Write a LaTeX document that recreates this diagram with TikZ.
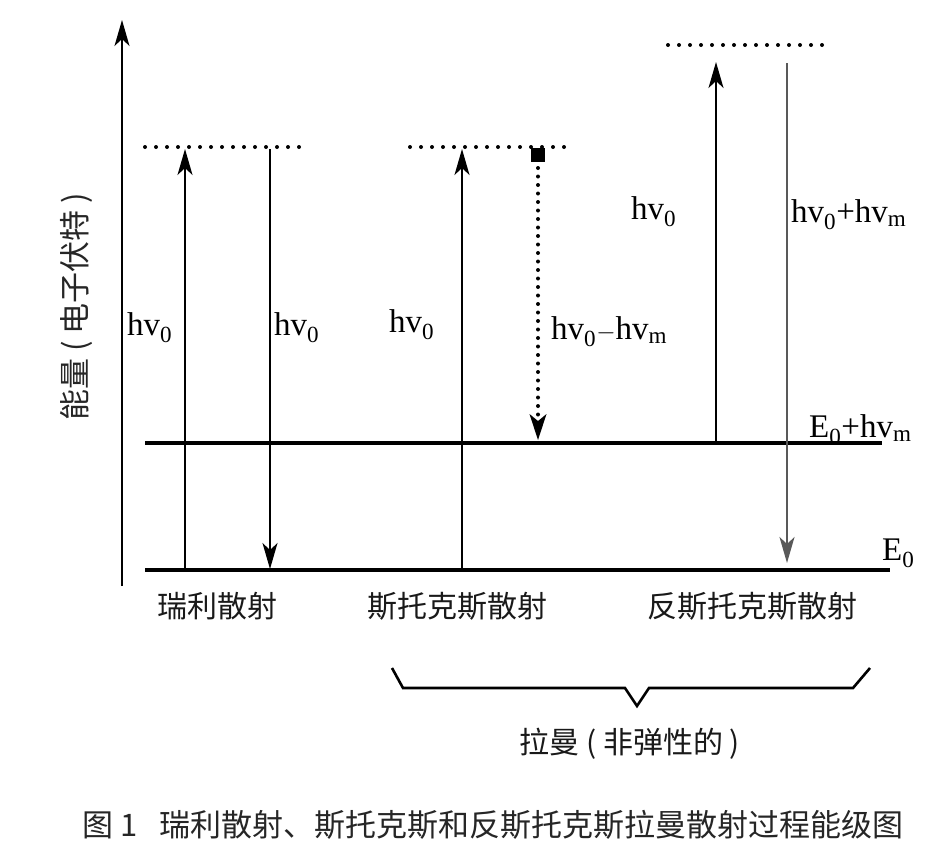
\documentclass[tikz,border=0pt]{standalone}
\usepackage{fontspec}
\setmainfont{Liberation Serif}
\newfontfamily\cjk{Noto Sans CJK SC}
\usetikzlibrary{arrows.meta}
\newcommand\lpar{\hspace{0.22em}(\hspace{0.22em}}
\newcommand\rpar{\hspace{0.22em})}
\tikzset{
        level/.style = { line width=3.6pt },
      virtual/.style = { line width=4pt, line cap=round, dash pattern=on 0pt off 11pt },
       photon/.style = { line width=1.8pt, -{Stealth[length=26pt,width=15pt,inset=7pt]} },
     grayline/.style = { photon, black!65 },
   dottedline/.style = { line width=4pt, line cap=round, dash pattern=on 0pt off 8.5pt,
                         -{Stealth[length=26pt,width=17pt,inset=7pt,line width=0pt]} },
       energy/.style = { anchor=west, inner sep=0pt, font=\fontsize{33}{33}\selectfont },
     category/.style = { inner sep=0pt, font=\cjk\fontsize{30}{30}\selectfont, black!90 },
       legend/.style = { inner sep=0pt, font=\cjk\fontsize{31}{31}\selectfont, black!85 }
}
\begin{document}
\begin{tikzpicture}[x=1pt, y=-1pt]
  \useasboundingbox[fill=white] (0,0) rectangle (950,860);

  % axis
  \coordinate (axbot) at (122,586);
  \coordinate (axtop) at (122,20);
  \draw[photon] (axbot) -- (axtop);
  \node[legend, rotate=90] (ylabel) at (76,307) {能量\lpar 电子伏特\rpar};

  % energy levels
  \coordinate (g0) at (145,570);
  \coordinate (g1) at (890,570);
  \coordinate (v0) at (145,443);
  \coordinate (v1) at (882,443);
  \draw[level] (g0) -- (g1);
  \draw[level] (v0) -- (v1);
  \node[energy] (e0)  at (882,553) {E\textsubscript{0}};
  \node[energy] (e0m) at (809,430) {E\textsubscript{0}+hv\textsubscript{m}};

  % virtual levels
  \coordinate (r0) at (145,147);
  \coordinate (r1) at (305,147);
  \coordinate (s0) at (410,147);
  \coordinate (s1) at (575,147);
  \coordinate (a0) at (668,45);
  \coordinate (a1) at (832,45);
  \draw[virtual] (r0) -- (r1);
  \draw[virtual] (s0) -- (s1);
  \draw[virtual] (a0) -- (a1);

  % rayleigh
  \coordinate (ru0) at (185,570);
  \coordinate (ru1) at (185,149);
  \coordinate (rd0) at (270,149);
  \coordinate (rd1) at (270,569);
  \draw[photon] (ru0) -- (ru1);
  \draw[photon] (rd0) -- (rd1);
  \node[energy] (hra) at (127,328) {hv\textsubscript{0}};
  \node[energy] (hrb) at (274,328) {hv\textsubscript{0}};

  % stokes
  \coordinate (su0) at (462,570);
  \coordinate (su1) at (462,149);
  \coordinate (sd0) at (538,168);
  \coordinate (sd1) at (538,440);
  \draw[photon] (su0) -- (su1);
  \node[fill=black, minimum size=14pt, inner sep=0pt] (sq) at (538,155) {};
  \draw[dottedline] (sd0) -- (sd1);
  \node[energy] (hsa) at (389,325) {hv\textsubscript{0}};
  \node[energy] (hsb) at (551,332) {hv\textsubscript{0}$-$hv\textsubscript{m}};

  % anti-stokes
  \coordinate (au0) at (716,443);
  \coordinate (au1) at (716,62);
  \coordinate (ad0) at (787,63);
  \coordinate (ad1) at (787,563);
  \draw[photon] (au0) -- (au1);
  \draw[grayline] (ad0) -- (ad1);
  \node[energy] (haa) at (631,212) {hv\textsubscript{0}};
  \node[energy] (hab) at (791,215) {hv\textsubscript{0}+hv\textsubscript{m}};

  % names
  \node[category] (ray) at (217,606) {瑞利散射};
  \node[category] (sto) at (457,606) {斯托克斯散射};
  \node[category] (ant) at (752,606) {反斯托克斯散射};

  % brace
  \coordinate (b0) at (392,668);
  \coordinate (b1) at (403,688);
  \coordinate (b2) at (625,688);
  \coordinate (b3) at (637,706);
  \coordinate (b4) at (649,688);
  \coordinate (b5) at (853,688);
  \coordinate (b6) at (870,668);
  \draw[line width=2.6pt, line join=miter] (b0) -- (b1) -- (b2) -- (b3) -- (b4) -- (b5) -- (b6);
  \node[category] (raman) at (630,744) {拉曼\lpar 非弹性的\rpar};

  \node[legend] (caption) at (493,825) {图 1\hspace{0.7em}瑞利散射、斯托克斯和反斯托克斯拉曼散射过程能级图};
\end{tikzpicture}
\end{document}
